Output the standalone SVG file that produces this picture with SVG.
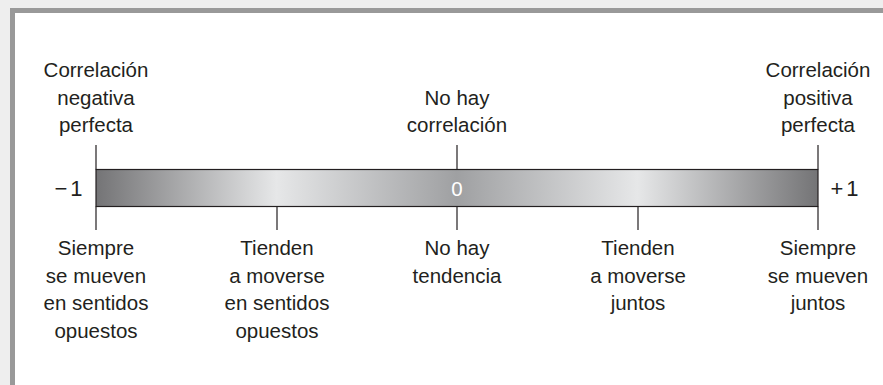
<svg xmlns="http://www.w3.org/2000/svg" width="883" height="385" viewBox="0 0 883 385">
<defs>
<linearGradient id="barGrad" x1="0" y1="0" x2="1" y2="0">
<stop offset="0" stop-color="#747476"/>
<stop offset="0.25" stop-color="#e6e7e8"/>
<stop offset="0.5" stop-color="#9fa0a2"/>
<stop offset="0.75" stop-color="#e6e7e8"/>
<stop offset="1" stop-color="#747476"/>
</linearGradient>
</defs>
<style>
text{font-family:"Liberation Sans",Arial,sans-serif;font-size:20.5px;fill:#231f20;text-anchor:middle}
.tick{stroke:#231f20;stroke-width:1.2}
</style>
<rect x="0" y="0" width="883" height="385" fill="#eeeeee"/>
<rect x="10" y="8" width="873" height="377" fill="#999999"/>
<rect x="15" y="13" width="868" height="372" fill="#ffffff"/>
<g id="bar">
<rect x="96" y="169.5" width="722" height="37" fill="url(#barGrad)" stroke="#231f20" stroke-width="1.2"/>
<text x="457" y="196" style="fill:#ffffff">0</text>
</g>
<g id="connectors">
<line class="tick" x1="96" y1="145" x2="96" y2="169.5"/>
<line class="tick" x1="457" y1="145" x2="457" y2="169.5"/>
<line class="tick" x1="818" y1="145" x2="818" y2="169.5"/>
<line class="tick" x1="96" y1="206.5" x2="96" y2="230"/>
<line class="tick" x1="277" y1="206.5" x2="277" y2="230"/>
<line class="tick" x1="457" y1="206.5" x2="457" y2="230"/>
<line class="tick" x1="638" y1="206.5" x2="638" y2="230"/>
<line class="tick" x1="818" y1="206.5" x2="818" y2="230"/>
</g>
<g id="minus-one"><text x="70" y="196" style="font-size:22px;letter-spacing:3px">−1</text></g>
<g id="plus-one"><text x="846" y="196" style="font-size:22px;letter-spacing:3px">+1</text></g>
<g id="top-left">
<text x="96" y="77">Correlación</text>
<text x="96" y="104.5">negativa</text>
<text x="96" y="132">perfecta</text>
</g>
<g id="top-center">
<text x="457" y="104.5">No hay</text>
<text x="457" y="132">correlación</text>
</g>
<g id="top-right">
<text x="818" y="77">Correlación</text>
<text x="818" y="104.5">positiva</text>
<text x="818" y="132">perfecta</text>
</g>
<g id="bottom-1">
<text x="96" y="255">Siempre</text>
<text x="96" y="282.5">se mueven</text>
<text x="96" y="310">en sentidos</text>
<text x="96" y="337.5">opuestos</text>
</g>
<g id="bottom-2">
<text x="277" y="255">Tienden</text>
<text x="277" y="282.5">a moverse</text>
<text x="277" y="310">en sentidos</text>
<text x="277" y="337.5">opuestos</text>
</g>
<g id="bottom-3">
<text x="457" y="255">No hay</text>
<text x="457" y="282.5">tendencia</text>
</g>
<g id="bottom-4">
<text x="638" y="255">Tienden</text>
<text x="638" y="282.5">a moverse</text>
<text x="638" y="310">juntos</text>
</g>
<g id="bottom-5">
<text x="818" y="255">Siempre</text>
<text x="818" y="282.5">se mueven</text>
<text x="818" y="310">juntos</text>
</g>
</svg>
